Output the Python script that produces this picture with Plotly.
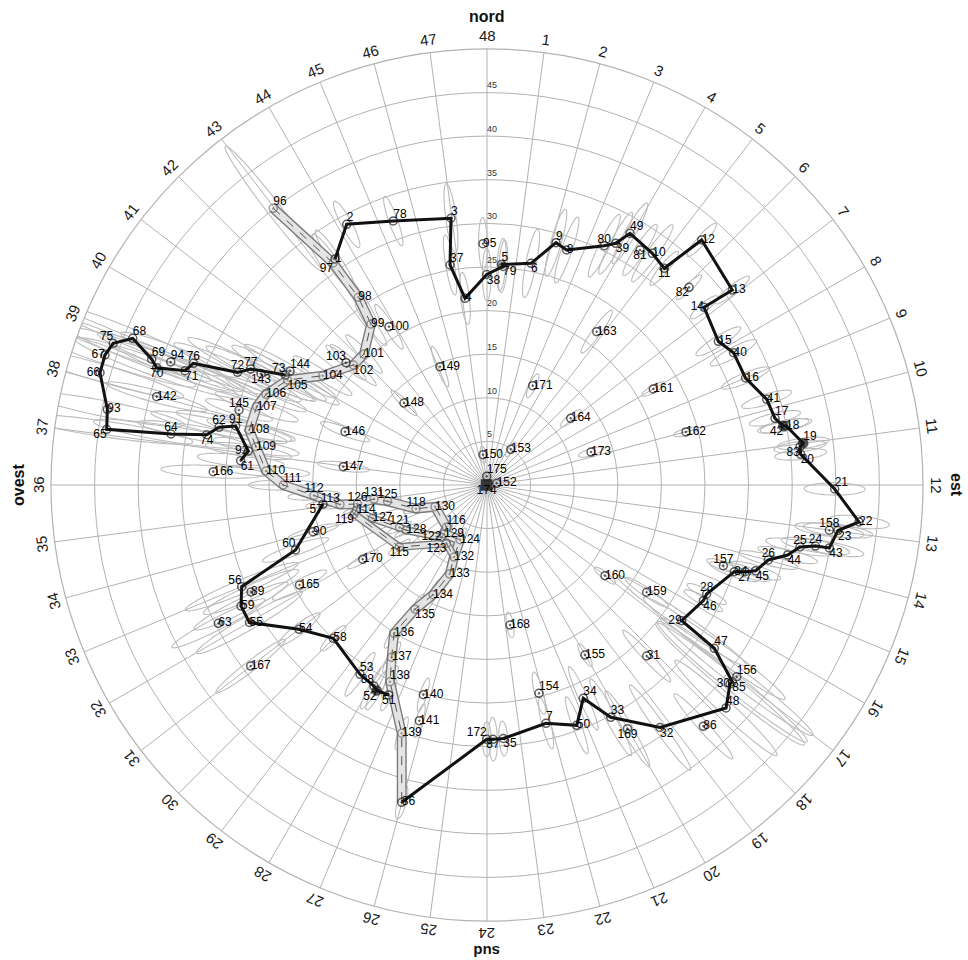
import numpy as np
import plotly.graph_objects as go

# ---------------------------------------------------------------- data
# Position of each numbered fix: east / north offsets (km) from the station
point_id = [
    1, 2, 3, 4, 5, 6, 7, 8, 9, 10, 11, 12, 13, 14, 15, 16, 17, 18, 19, 20,
    21, 22, 23, 24, 25, 26, 27, 28, 29, 30, 31, 32, 33, 34, 35, 36, 37, 38, 39, 40,
    41, 42, 43, 44, 45, 46, 47, 48, 49, 50, 51, 52, 53, 54, 55, 56, 57, 58, 59, 60,
    61, 62, 63, 64, 65, 66, 67, 68, 69, 70, 71, 72, 73, 74, 75, 76, 77, 78, 79, 80,
    81, 82, 83, 84, 85, 86, 87, 88, 89, 90, 91, 92, 93, 94, 95, 96, 97, 98, 99, 100,
    101, 102, 103, 104, 105, 106, 107, 108, 109, 110, 111, 112, 113, 114, 115, 116, 118, 119, 121, 122,
    123, 124, 125, 126, 127, 128, 129, 130, 131, 132, 133, 134, 135, 136, 137, 138, 139, 140, 141, 142,
    143, 144, 145, 146, 147, 148, 149, 150, 152, 153, 154, 155, 156, 157, 158, 159, 160, 161, 162, 163,
    164, 165, 166, 167, 168, 169, 170, 171, 172, 173, 174, 175,
]
east = [
    -17.43, -16.09, -4.13, -2.52, 1.66, 5.05, 6.77, 9.14, 7.91, 18.96, 20.33, 24.62, 28.13, 24.89, 26.53, 29.65, 33.03, 34.29, 36.27, 35.97,
    39.87, 42.66, 40.25, 37.67, 35.89, 32.26, 29.59, 25.19, 22.33, 27.87, 18.31, 19.84, 14.19, 11.04, 1.87, -9.78, -4.24, -0.03, 14.76, 28.27,
    32.08, 33.98, 39.26, 34.48, 30.81, 24.81, 26.07, 27.41, 16.40, 10.29, -11.27, -12.65, -14.56, -21.56, -27.24, -28.13, -18.81, -17.63, -28.21, -21.96,
    -28.25, -30.73, -30.81, -36.24, -43.61, -44.38, -43.81, -40.63, -38.45, -37.88, -34.63, -28.61, -23.11, -32.14, -42.86, -33.68, -27.10, -10.75, 1.83, 13.45,
    17.55, 23.17, 35.89, 28.36, 28.13, 24.81, 0.69, -12.96, -27.06, -19.95, -28.82, -27.37, -43.54, -36.27, -0.46, -24.51, -17.66, -14.76, -13.30, -11.24,
    -14.11, -15.33, -16.17, -18.84, -22.88, -25.34, -26.41, -27.26, -26.49, -25.34, -23.36, -19.84, -16.86, -14.97, -10.06, -4.64, -8.14, -15.25, -10.03, -5.22,
    -4.64, -3.10, -11.41, -14.85, -13.13, -9.25, -4.93, -5.96, -12.96, -3.78, -4.28, -6.19, -8.26, -10.66, -10.93, -11.12, -9.78, -7.30, -7.76, -37.88,
    -25.92, -22.59, -28.44, -16.28, -16.48, -9.52, -5.39, -0.46, 1.11, 2.73, 5.96, 11.24, 28.64, 27.10, 39.26, 18.31, 13.53, 19.07, 22.82, 12.58,
    9.60, -21.50, -31.39, -27.10, 2.64, 16.11, -14.25, 5.24, -0.03, 11.93, -0.05, -0.03,
]
north = [
    25.92, 29.90, 30.59, 21.41, 25.29, 25.42, -27.33, 26.95, 27.79, 26.57, 24.85, 28.10, 22.36, 20.38, 16.48, 12.27, 7.65, 6.80, 4.78, 3.52,
    -0.46, -4.24, -5.22, -7.00, -7.11, -8.60, -9.94, -12.50, -15.56, -22.82, -19.61, -27.81, -26.64, -24.46, -29.07, -36.39, 25.23, 24.14, 27.72, 15.17,
    9.83, 6.77, -7.22, -8.03, -9.83, -13.27, -18.73, -25.57, 28.86, -27.56, -24.08, -23.57, -21.71, -16.55, -15.77, -11.66, -2.20, -17.58, -13.88, -7.45,
    2.79, 6.62, -15.86, 5.85, 6.39, 12.88, 14.91, 16.82, 14.42, 13.45, 13.11, 12.92, 12.61, 5.77, 16.25, 13.96, 13.30, 30.28, 25.06, 27.44,
    26.95, 22.67, 4.39, -9.94, -22.56, -27.67, -29.16, -23.05, -12.27, -5.36, 6.77, 3.90, 8.68, 14.11, 27.67, 31.73, 25.46, 21.53, 18.46, 18.15,
    15.02, 13.76, 14.03, 12.53, 12.04, 10.40, 8.98, 6.31, 4.39, 1.61, 0.00, -1.20, -2.24, -2.92, -7.11, -4.82, -2.72, -3.33, -4.87, -6.02,
    -6.69, -6.27, -1.87, -2.18, -3.82, -5.19, -5.62, -2.49, -1.61, -8.26, -10.21, -12.58, -14.25, -17.01, -19.76, -22.56, -28.47, -24.05, -27.03, 10.13,
    12.76, 13.07, 8.60, 6.11, 2.10, 9.40, 13.57, 3.47, 0.19, 4.09, -23.89, -19.50, -21.98, -9.25, -5.19, -12.30, -10.40, 11.01, 6.08, 17.58,
    7.65, -11.47, 1.53, -20.76, -16.06, -27.95, -8.52, 11.39, -29.16, 3.78, 0.00, 1.00,
]
# Error ellipse semi-axes (km): along the range direction and across it
err_range = [
    4, 3, 4, 3, 3, 4, 3, 4, 4, 4, 2.5, 2.5, 2.5, 2, 3, 3, 3, 3, 3, 3,
    3.5, 3.5, 4, 4, 4, 3.5, 3, 2.5, 9, 11, 4, 6, 5, 4, 2, 2, 3.5, 3, 4, 3,
    3, 3, 4, 3.5, 3, 2.5, 10, 8, 4, 3.5, 2, 2.5, 3, 3, 7, 7, 2, 2, 6, 4,
    5, 8, 6, 9, 10, 10, 11, 11, 10, 10, 9, 8, 7, 8, 12, 9, 8, 3, 3, 4,
    3.5, 2, 3, 3, 11, 5, 2.5, 3, 6, 3, 7, 5, 9, 9, 3, 9, 4, 3.5, 3, 3,
    3, 3.5, 3, 4, 5, 5, 5, 5, 5, 5, 4, 3, 2.5, 1.5, 1.5, 1.5, 1.5, 1.5, 1.5, 1.5,
    1.5, 1.5, 1.5, 1.5, 1.5, 1.5, 1.5, 1.5, 1.5, 1.5, 1.5, 2, 2, 2, 2, 2, 2, 2, 2, 6,
    7, 6, 4, 3, 3, 2, 2.5, 1, 0.8, 1, 2.5, 1.5, 11, 2, 4, 3, 1.5, 1.5, 1.5, 3,
    1.5, 3.5, 6, 5, 1.5, 5, 2, 1.5, 2, 1.5, 0.5, 0.5,
]
err_cross = [
    0.6, 0.6, 0.6, 0.5, 0.5, 0.6, 0.5, 0.6, 0.6, 0.6, 0.5, 0.5, 0.5, 0.5, 0.6, 0.6, 0.6, 0.6, 0.6, 0.6,
    0.7, 0.7, 0.7, 0.7, 0.7, 0.6, 0.6, 0.5, 0.8, 1.0, 0.5, 0.6, 0.6, 0.5, 0.5, 0.5, 0.5, 0.5, 0.6, 0.6,
    0.6, 0.6, 0.7, 0.6, 0.6, 0.5, 0.9, 0.8, 0.6, 0.5, 0.4, 0.5, 0.5, 0.6, 0.8, 0.8, 0.4, 0.5, 0.8, 0.6,
    0.7, 0.8, 0.7, 0.9, 0.9, 1.0, 1.0, 1.0, 1.0, 1.0, 1.0, 0.9, 0.8, 0.8, 1.0, 1.0, 0.9, 0.5, 0.5, 0.6,
    0.6, 0.4, 0.6, 0.6, 1.0, 0.6, 0.5, 0.5, 0.8, 0.5, 0.8, 0.7, 0.9, 0.9, 0.5, 0.8, 0.6, 0.6, 0.5, 0.5,
    0.5, 0.5, 0.5, 0.6, 0.7, 0.7, 0.7, 0.7, 0.7, 0.6, 0.6, 0.5, 0.4, 0.3, 0.3, 0.3, 0.3, 0.3, 0.3, 0.3,
    0.3, 0.3, 0.3, 0.3, 0.3, 0.3, 0.3, 0.3, 0.3, 0.3, 0.3, 0.4, 0.4, 0.4, 0.4, 0.4, 0.4, 0.4, 0.4, 0.7,
    0.8, 0.7, 0.6, 0.5, 0.5, 0.4, 0.4, 0.3, 0.3, 0.3, 0.5, 0.4, 1.0, 0.5, 0.7, 0.5, 0.4, 0.4, 0.4, 0.5,
    0.4, 0.6, 0.7, 0.6, 0.4, 0.6, 0.4, 0.4, 0.5, 0.4, 0.3, 0.3,
]

# Tracks joining fixes (by point number)
track_main = [1, 2, 78, 3, 37, 4, 38, 79, 5, 6, 9, 8, 80, 39, 49, 10, 11, 12, 13, 14, 15, 40, 16, 41, 17,
              42, 18, 19, 83, 20, 21, 22, 23, 43, 24, 25, 44, 26, 45, 27, 84, 28, 46, 29, 47, 85, 30, 48,
              32, 33, 34, 50, 7, 35, 87, 172, 36]
track_west = [61, 92, 91, 62, 74, 64, 65, 93, 66, 67, 75, 68, 69, 70, 71, 76, 72, 77, 73]
track_south = [57, 60, 56, 59, 55, 54, 58, 53, 88, 52, 51]
corridor_main = [96, 97, 98, 99, 101, 102, 104, 105, 106, 107, 108, 109, 110, 111, 112, 113, 126, 131,
                 125, 118, 130, 116, 129, 124, 132, 133, 134, 135, 136, 137, 138, 139, 36]
corridor_b = [126, 114, 127, 121, 128, 122, 129]
corridor_c = [114, 119, 115, 123, 132]

sector_labels = [str(k) for k in range(1, 49)]      # 48 sectors, "48" at north
radial_ticks = [5, 10, 15, 20, 25, 30, 35, 40, 45]
cardinals = ["nord", "est", "sud", "ovest"]

# ---------------------------------------------------------------- helpers
east = np.array(east)
north = np.array(north)
r_all = np.hypot(east, north)
th_all = np.degrees(np.arctan2(east, north)) % 360
idx = {p: i for i, p in enumerate(point_id)}
FONT = "Liberation Sans, Arial, sans-serif"


def path_rt(ids):
    ii = [idx[p] for p in ids]
    return r_all[ii], th_all[ii]


# error ellipses, all in one trace separated by gaps
t = np.linspace(0, 2 * np.pi, 73)
er, et = [], []
for e0, n0, a, b in zip(east, north, err_range, err_cross):
    phi = np.arctan2(e0, n0)
    pe = e0 + a * np.cos(t) * np.sin(phi) + b * np.sin(t) * np.cos(phi)
    pn = n0 + a * np.cos(t) * np.cos(phi) - b * np.sin(t) * np.sin(phi)
    er += list(np.hypot(pe, pn)) + [None]
    et += list(np.degrees(np.arctan2(pe, pn)) % 360) + [None]

fig = go.Figure()
fig.add_trace(go.Scatterpolar(r=er, theta=et, mode="lines", connectgaps=False,
                              line=dict(color="#bcbcbc", width=1.1), hoverinfo="skip"))

# grey double-edged corridor
for ids, w in ((corridor_main, 10), (corridor_b, 8), (corridor_c, 8)):
    rr, tt = path_rt(ids)
    fig.add_trace(go.Scatterpolar(r=rr, theta=tt, mode="lines",
                                  line=dict(color="#7c7c7c", width=w)))
    fig.add_trace(go.Scatterpolar(r=rr, theta=tt, mode="lines",
                                  line=dict(color="#e4e4e4", width=w - 2.8)))
    fig.add_trace(go.Scatterpolar(r=rr, theta=tt, mode="lines",
                                  line=dict(color="#555555", width=1, dash="dash")))

# black tracks
for ids in (track_main, track_west, track_south):
    rr, tt = path_rt(ids)
    fig.add_trace(go.Scatterpolar(r=rr, theta=tt, mode="lines",
                                  line=dict(color="#111111", width=3)))

# markers
corridor_set = set(corridor_main + corridor_b + corridor_c) - {36}
filled = {19, 42, 52}
symbols, mcolors, msizes = [], [], []
for p in point_id:
    if p == 174:
        symbols.append("square"); mcolors.append("#000000"); msizes.append(10)
    elif p in filled:
        symbols.append("circle"); mcolors.append("#111111"); msizes.append(9)
    else:
        symbols.append("circle-open-dot")
        mcolors.append("#6e6e6e" if p in corridor_set else "#1a1a1a")
        msizes.append(8)
fig.add_trace(go.Scatterpolar(
    r=r_all, theta=th_all, mode="markers",
    marker=dict(symbol=symbols, size=msizes, color=mcolors,
                line=dict(color=mcolors, width=1.5))))

# point labels
side = {
    "middle left": [66, 67, 14, 29, 30, 92, 122],
    "top left": [75, 56, 60, 113, 73, 103, 172, 88],
    "bottom left": [97, 65, 42, 52, 57, 119, 123, 82, 83],
    "bottom center": [70, 74, 143, 87, 169, 115, 11, 81, 174, 51, 27],
    "bottom right": [79, 38, 45, 43, 44, 23, 39, 46, 105, 102, 35, 32, 85, 6, 71, 135, 61, 20],
    "top center": [28, 157, 158, 26, 25, 24, 76, 72, 77, 62, 64, 91, 145, 126, 131, 125, 118, 121, 80, 112],
    "top right": [9, 2, 78, 68, 69, 94, 144, 96, 49, 5, 37, 116, 17, 19, 21, 47, 48, 156, 7, 34, 53,
                  175, 111, 154, 33, 138, 3],
}
pos_of = {p: k for k, v in side.items() for p in v}
fig.add_trace(go.Scatterpolar(
    r=r_all, theta=th_all, mode="text",
    text=[str(p) for p in point_id],
    textposition=[pos_of.get(p, "middle right") for p in point_id],
    textfont=dict(family=FONT, size=12, color="#000000")))

# range labels along the north spoke
fig.add_trace(go.Scatterpolar(
    r=[v + 0.75 for v in radial_ticks], theta=[0] * len(radial_ticks), mode="text",
    text=[str(v) for v in radial_ticks], textposition="middle right",
    textfont=dict(family=FONT, size=9, color="#333333")))

# ---------------------------------------------------------------- layout
W, H = 968, 960
R_PX = 436
CX, CY = 487, 485           # centre of the dial, px from top-left
dom_x = [(CX - R_PX) / W, (CX + R_PX) / W]
dom_y = [(H - CY - R_PX) / H, (H - CY + R_PX) / H]
grid = "#b2b2b2"

fig.update_layout(
    width=W, height=H, margin=dict(l=0, r=0, t=0, b=0),
    paper_bgcolor="white", showlegend=False,
    polar=dict(
        domain=dict(x=dom_x, y=dom_y),
        bgcolor="white",
        angularaxis=dict(rotation=90, direction="clockwise",
                         tickvals=list(np.arange(48) * 7.5), showticklabels=False, ticks="",
                         showgrid=True, gridcolor=grid, gridwidth=1,
                         showline=True, linecolor=grid, linewidth=1.2, layer="below traces"),
        radialaxis=dict(range=[0, 50], tickvals=radial_ticks, showticklabels=False, ticks="",
                        showline=False, showgrid=True, gridcolor=grid, gridwidth=1,
                        layer="below traces"),
    ),
)

# sector numbers and compass words, turned to follow the dial
ann = []
for k, lab in enumerate(sector_labels, start=1):
    ang = (k % 48) * 7.5
    a = np.radians(ang)
    rot = ang if ang <= 180 else ang - 360
    ann.append(dict(x=(CX + 449 * np.sin(a)) / W, y=(H - CY + 449 * np.cos(a)) / H,
                    xref="paper", yref="paper", text=lab, showarrow=False,
                    textangle=rot, xanchor="center", yanchor="middle",
                    font=dict(family=FONT, size=15, color="#1a1a1a")))
for j, word in enumerate(cardinals):
    ang = j * 90
    a = np.radians(ang)
    rot = ang if ang <= 180 else ang - 360
    rad = 467 if word == "sud" else 469
    ann.append(dict(x=(CX + rad * np.sin(a)) / W, y=(H - CY + rad * np.cos(a)) / H,
                    xref="paper", yref="paper", text="<b>%s</b>" % word, showarrow=False,
                    textangle=rot, xanchor="center", yanchor="middle",
                    font=dict(family=FONT, size=15 if word == "sud" else 16, color="#111111")))
fig.update_layout(annotations=ann)

fig.write_html("out.html")
